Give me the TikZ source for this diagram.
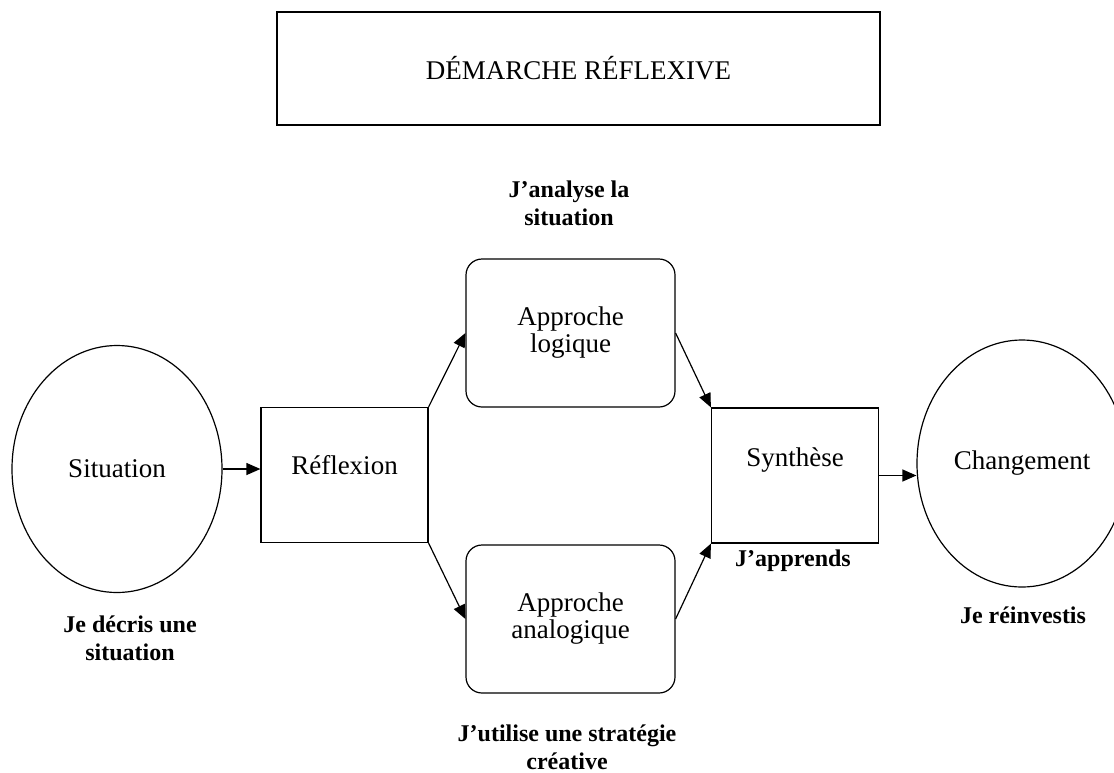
\documentclass[tikz,border=0pt]{standalone}
\usepackage{fontspec}
\setmainfont{Liberation Serif}
\usetikzlibrary{arrows.meta,shapes.geometric}

\tikzset{
  forme/.style={draw, line width=0.6pt, font=\fontsize{13.5}{13.5}\selectfont, align=center, inner sep=0pt},
  rond/.style={forme, ellipse, minimum width=105pt, minimum height=123.5pt},
  boite/.style={forme, rectangle, minimum width=83.5pt, minimum height=67.5pt},
  approche/.style={forme, rectangle, rounded corners=8pt, minimum width=104.5pt, minimum height=74pt},
  texte/.style={font=\fontsize{13.5}{13.5}\selectfont},
  etiquette/.style={font=\fontsize{12}{14}\selectfont\bfseries, align=center},
  fleche/.style={line width=0.6pt, -{Triangle[length=7pt,width=6pt]}}
}

\begin{document}
\begin{tikzpicture}[x=0.5pt,y=-0.5pt]
    \useasboundingbox (0,0) rectangle (1114,772);

    \node[forme, line width=0.8pt, minimum width=301.5pt, minimum height=56.5pt] (titre) at (578.5,68.5) {DÉMARCHE RÉFLEXIVE};

    \node[rond] (situation) at (117,469) {Situation};
    \node[boite] (reflexion) at (344.5,475) {};
    \node[approche] (logique) at (570.5,333) {Approche\\logique};
    \node[approche] (analogique) at (570.5,619) {Approche\\analogique};
    \node[boite] (synthese) at (795,475.5) {};
    \node[rond] (changement) at (1022,463.5) {Changement};

    \node[texte] (t-reflexion) at ([yshift=5pt]reflexion.center) {Réflexion};
    \node[texte] (t-synthese) at ([yshift=7.5pt]synthese.center) {Synthèse};

%    \node at (0,0) {$*$};

    \draw[fleche] (situation.east) -- (situation.east -| reflexion.west);
    \draw[fleche] (reflexion.north east) -- (logique.west);
    \draw[fleche] (reflexion.south east) -- (analogique.west);
    \draw[fleche] (logique.east) -- (synthese.north west);
    \draw[fleche] (analogique.east) -- (synthese.south west);
    \draw[fleche] (synthese.east) -- (synthese.east -| changement.west);

    \node[etiquette] (analyse) at (569,203) {J’analyse la\\situation};
    \node[etiquette] (decris) at (130,638.5) {Je décris une\\situation};
    \node[etiquette] (apprends) at (793,561) {J’apprends};
    \node[etiquette] (reinvestis) at (1023,615) {Je réinvestis};
    \node[etiquette] (utilise) at (567,747.5) {J’utilise une stratégie\\créative};

\end{tikzpicture}
\end{document}
